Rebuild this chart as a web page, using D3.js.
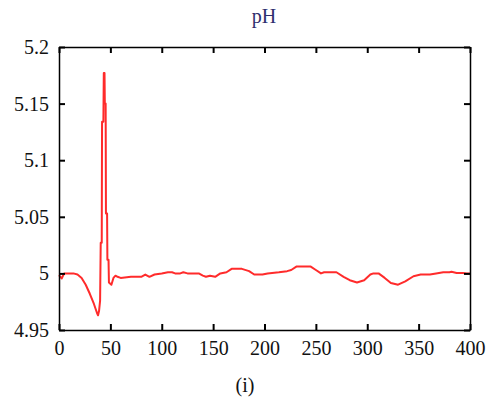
<!DOCTYPE html>
<html>
<head>
<meta charset="utf-8">
<script src="https://cdn.jsdelivr.net/npm/d3@7"></script>
<style>
  body { margin: 0; background: #fff; }
  svg text { font-family: "Liberation Serif", "Times New Roman", serif; }
</style>
</head>
<body>
<div id="chart"></div>
<script>
const times = [0, 2.6, 5, 14, 18, 22, 26, 30, 34, 37, 38, 39, 40,
  40.6, 41.6, 41.9, 43.2, 43.6, 44.3, 44.6, 45.4, 45.7, 46.8, 47.1, 48.2, 48.6,
  51, 53, 55, 57, 60, 70, 80, 84, 88, 93, 100, 106, 110, 113, 118, 121, 125,
  136, 140, 143, 147, 152, 157, 163, 168, 178, 185, 190, 198, 203, 214, 222,
  226, 231, 245, 250, 255, 258, 262, 270, 277, 283, 290, 297, 303, 306, 311,
  317, 323, 330, 337, 345, 352, 361, 367, 374, 380, 382, 387, 393, 397, 400];
const phValues = [4.9985, 4.9955, 5.0, 5.0, 4.999, 4.996, 4.990, 4.982, 4.973, 4.965, 4.963, 4.967, 4.976,
  5.027, 5.027, 5.134, 5.134, 5.177, 5.177, 5.150, 5.150, 5.053, 5.053, 5.012, 5.012, 4.992,
  4.990, 4.996, 4.998, 4.997, 4.996, 4.997, 4.997, 4.999, 4.997, 4.999, 5.000, 5.001, 5.001, 5.000, 5.000, 5.001, 5.000,
  5.000, 4.998, 4.997, 4.998, 4.997, 5.000, 5.001, 5.004, 5.004, 5.002, 4.999, 4.999, 5.000, 5.001, 5.002,
  5.003, 5.006, 5.006, 5.003, 5.000, 5.001, 5.001, 5.001, 4.997, 4.994, 4.992, 4.994, 4.999, 5.000, 5.000,
  4.996, 4.9915, 4.990, 4.993, 4.9975, 4.999, 4.999, 5.000, 5.001, 5.001, 5.0015, 5.0003, 5.0003, 5.000, 5.000];

const xTicks = [0, 50, 100, 150, 200, 250, 300, 350, 400];
const yTicks = [4.95, 5, 5.05, 5.1, 5.15, 5.2];

const data = times.map((t, i) => ({ t: t, v: phValues[i] }));

const W = 486, H = 402;
const margin = { top: 47, right: 16, bottom: 72, left: 59 };
const width = W - margin.left - margin.right,
  height = H - margin.top - margin.bottom;

const svg = d3.select('#chart')
  .append('svg')
  .attr('width', W)
  .attr('height', H);

const g = svg.append('g')
  .attr('transform', `translate(${margin.left},${margin.top})`);

const x = d3.scaleLinear().domain([0, 400]).range([0, width]);
const y = d3.scaleLinear().domain([4.95, 5.2]).range([height, 0]);

// the line
g.append('path')
  .datum(data)
  .attr('fill', 'none')
  .attr('stroke', '#ff2b2b')
  .attr('stroke-width', 2)
  .attr('stroke-linejoin', 'round')
  .attr('d', d3.line().x(d => x(d.t)).y(d => y(d.v)));

// frame with inward ticks on all sides
function styleAxis(sel) {
  sel.select('.domain').attr('stroke', '#000').attr('stroke-width', 1.5);
  sel.selectAll('.tick line').attr('stroke', '#000').attr('stroke-width', 2);
  sel.selectAll('.tick text').attr('fill', '#111').style('font-size', '20px');
}

g.append('g')
  .attr('transform', `translate(0,${height})`)
  .call(d3.axisBottom(x).tickValues(xTicks).tickSize(-6).tickSizeOuter(0).tickPadding(11))
  .call(styleAxis);

g.append('g')
  .call(d3.axisTop(x).tickValues(xTicks).tickSize(-6).tickSizeOuter(0).tickFormat(''))
  .call(styleAxis);

g.append('g')
  .call(d3.axisLeft(y).tickValues(yTicks).tickSize(-6).tickSizeOuter(0).tickPadding(10)
    .tickFormat(d3.format('~g')))
  .call(styleAxis);

g.append('g')
  .attr('transform', `translate(${width},0)`)
  .call(d3.axisRight(y).tickValues(yTicks).tickSize(-6).tickSizeOuter(0).tickFormat(''))
  .call(styleAxis);

// title and caption
svg.append('text')
  .attr('x', 264)
  .attr('y', 23)
  .attr('text-anchor', 'middle')
  .attr('fill', '#2e2e6e')
  .style('font-size', '20px')
  .text('pH');

svg.append('text')
  .attr('x', 245)
  .attr('y', 392)
  .attr('text-anchor', 'middle')
  .attr('fill', '#111')
  .style('font-size', '20px')
  .text('(i)');
</script>
</body>
</html>
